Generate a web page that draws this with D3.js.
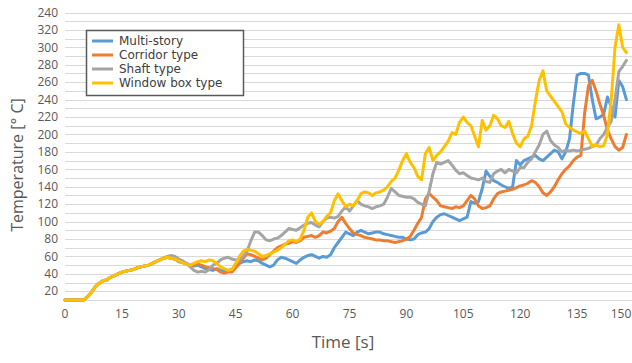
<!DOCTYPE html>
<html><head><meta charset="utf-8">
<script src="https://cdn.jsdelivr.net/npm/d3@7"></script>
<style>body{margin:0;background:#fff}svg{display:block;font-family:"Open Sans",sans-serif}</style>
</head><body>
<svg id="c" width="632" height="363"></svg>
<script>
// time in seconds (one sample per second)
const time = d3.range(0, 149);
const seriesNames = ["Multi-story", "Corridor type", "Shaft type", "Window box type"];
const seriesColors = ["#5B9BD5", "#ED7D31", "#A5A5A5", "#FFC000"];

const multiStory = [10,10,10,10,10,10,
14,19,25,29,32,33,36,38,40,42,43,44,45,47,48,49,50,52,54,56,58,59,58,57,
54,53,52,50,49,50,48,46,45,44,46,44,43,44,45,50,52,54,55,54,56,55,52,50,48,50,56,59,58,56,54,52,56,59,61,62,60,58,60,59,62,70,76,82,88,
86,84,88,90,88,86,87,88,88,86,85,84,83,82,82,80,79,80,85,87,88,92,100,105,108,109,107,105,103,101,103,105,123,121,123,
138,158,152,147,145,142,140,138,140,170,165,170,172,174,176,172,170,174,178,182,180,172,180,195,235,
268,270,270,268,240,218,220,223,243,232,220,262,255,240];

const corridor = [10,10,10,10,10,10,
14,19,25,29,32,33,36,38,40,42,43,44,45,47,48,49,50,52,54,56,58,59,58,57,
55,53,51,50,50,51,50,48,47,46,45,42,41,42,42,47,52,58,63,62,60,58,56,58,62,66,70,72,74,75,77,76,78,82,83,84,82,84,88,87,89,92,100,105,98,
92,87,85,84,82,81,80,79,79,78,78,77,76,77,78,80,83,90,98,105,126,132,128,124,118,117,116,115,117,116,118,124,130,126,118,
115,116,118,126,132,134,135,136,137,139,141,142,144,147,145,140,133,130,134,140,148,155,160,164,170,
174,176,225,256,262,250,235,222,205,195,186,182,185,200];

const shaft = [10,10,10,10,10,10,
14,19,25,29,32,33,36,38,40,42,43,44,45,47,48,49,50,52,54,56,58,60,61,60,
57,55,52,48,44,42,43,42,45,50,52,56,58,59,57,56,56,60,66,78,88,88,84,79,78,80,81,84,88,92,91,90,93,96,98,99,96,94,100,104,105,104,106,112,117,
112,118,124,120,118,117,115,117,118,120,128,138,134,130,129,128,128,126,122,120,118,135,155,168,166,168,170,165,159,155,156,153,150,149,148,
150,146,145,155,158,160,156,160,158,156,162,162,168,172,180,188,200,204,193,188,185,180,182,181,182,
181,182,183,184,186,188,195,200,208,215,240,272,278,285];

const windowBox = [10,10,10,10,10,10,
14,19,25,29,32,33,36,38,40,42,43,44,45,47,48,49,50,52,54,56,58,59,58,57,
55,53,51,50,52,54,55,54,56,55,52,48,46,44,45,52,60,66,68,67,66,63,60,61,63,65,67,70,74,78,79,77,80,90,105,110,100,97,100,106,110,124,132,124,117,
120,118,124,132,134,133,130,133,134,136,140,146,150,159,170,178,168,162,152,148,178,185,170,176,180,186,192,202,200,214,220,214,210,198,186,
216,205,210,222,218,210,208,215,201,190,186,195,198,210,238,262,273,250,244,238,232,226,212,208,205,
203,201,204,195,186,188,186,187,200,240,300,326,300,294];

const seriesValues = [multiStory, corridor, shaft, windowBox];

const yGridValues = d3.range(10, 341, 10);
const yTickValues = [20,40,60,80,100,120,140,160,180,200,220,240,260,280,300,320,340];
const yTickLabels = ["20","40","60","80","100","120","140","160","180","200","220","240","260","280","300","320","240"];
const xTickValues = [0,15,30,45,60,75,90,105,120,135,150];

const W = 632, H = 363;
const svg = d3.select("#c");
const x = d3.scaleLinear().domain([0, 150]).range([65, 634]);
const y = d3.scaleLinear().domain([10, 340]).range([300, 12.5]);

// gridlines
svg.append("g").selectAll("line").data(yGridValues).join("line")
  .attr("x1", 65).attr("x2", W)
  .attr("y1", d => Math.round(y(d)) + 0.5).attr("y2", d => Math.round(y(d)) + 0.5)
  .attr("stroke", "#d9d9d9").attr("stroke-width", 1);

// y tick labels
svg.append("g").selectAll("text").data(yTickValues).join("text")
  .attr("x", 58).attr("y", d => y(d)).attr("dy", "0.35em")
  .attr("text-anchor", "end").attr("font-size", 12).attr("fill", "#595959")
  .text((d, i) => yTickLabels[i]);

// x tick labels
svg.append("g").selectAll("text").data(xTickValues).join("text")
  .attr("x", d => Math.min(x(d), W - 11)).attr("y", 318)
  .attr("text-anchor", "middle").attr("font-size", 12).attr("fill", "#595959")
  .text(d => d);

// series
const line = d3.line().x((d, i) => x(time[i])).y(d => y(d));
svg.append("g").selectAll("path").data(seriesValues).join("path")
  .attr("d", d => line(d))
  .attr("fill", "none")
  .attr("stroke", (d, i) => seriesColors[i])
  .attr("stroke-width", 3)
  .attr("stroke-linejoin", "round")
  .attr("stroke-linecap", "round");

// axis titles
svg.append("text").attr("transform", "translate(23,165) rotate(-90)")
  .attr("text-anchor", "middle").attr("font-size", 16).attr("fill", "#595959")
  .text("Temperature [° C]");
svg.append("text").attr("x", 343).attr("y", 348)
  .attr("text-anchor", "middle").attr("font-size", 17).attr("fill", "#595959")
  .text("Time [s]");

// legend
const lg = svg.append("g");
lg.append("rect").attr("x", 86.5).attr("y", 30.5).attr("width", 157).attr("height", 65)
  .attr("fill", "#fff").attr("stroke", "#595959").attr("stroke-width", 1.5);
const items = lg.selectAll("g.item").data(seriesNames).join("g")
  .attr("transform", (d, i) => `translate(0,${41 + i * 14})`);
items.append("line").attr("x1", 92).attr("x2", 113).attr("y1", 0).attr("y2", 0)
  .attr("stroke", (d, i) => seriesColors[i]).attr("stroke-width", 3);
items.append("text").attr("x", 119).attr("y", 0).attr("dy", "0.35em")
  .attr("font-family", "'DejaVu Sans', sans-serif")
  .attr("font-size", 12).attr("fill", "#404040").text(d => d);
</script>
</body></html>
